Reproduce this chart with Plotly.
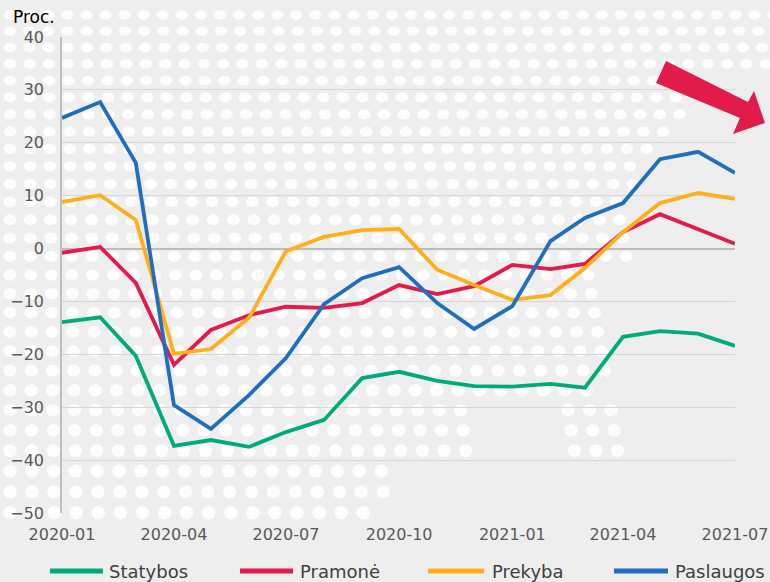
import base64
import plotly.graph_objects as go

# ---------------- data ----------------
months = [
    "2020-01-01", "2020-02-01", "2020-03-01", "2020-04-01", "2020-05-01", "2020-06-01",
    "2020-07-01", "2020-08-01", "2020-09-01", "2020-10-01", "2020-11-01", "2020-12-01",
    "2021-01-01", "2021-02-01", "2021-03-01", "2021-04-01", "2021-05-01", "2021-06-01",
    "2021-07-01",
]
statybos = [-13.9, -13.0, -20.3, -37.3, -36.2, -37.5, -34.7, -32.4, -24.5, -23.3,
            -25.0, -26.0, -26.1, -25.6, -26.3, -16.7, -15.6, -16.1, -18.4]
pramone = [-0.8, 0.3, -6.5, -22.0, -15.4, -12.6, -11.0, -11.2, -10.3, -6.9,
           -8.6, -7.1, -3.1, -3.9, -2.9, 3.1, 6.5, 3.7, 0.9]
prekyba = [8.8, 10.1, 5.4, -19.9, -19.0, -13.1, -0.5, 2.2, 3.5, 3.7,
           -4.0, -6.9, -9.7, -8.8, -3.7, 3.1, 8.6, 10.5, 9.4]
paslaugos = [24.7, 27.7, 16.2, -29.6, -34.1, -27.7, -20.7, -10.5, -5.6, -3.5,
             -10.3, -15.2, -10.9, 1.4, 5.8, 8.6, 16.9, 18.3, 14.3]

series_names = ["Statybos", "Pramonė", "Prekyba", "Paslaugos"]
series_values = [statybos, pramone, prekyba, paslaugos]
series_colors = ["#00AB7B", "#E31B4B", "#FFAF1C", "#1F6FBE"]

x_tick_vals = ["2020-01-01", "2020-04-01", "2020-07-01", "2020-10-01",
               "2021-01-01", "2021-04-01", "2021-07-01"]
x_tick_text = ["2020-01", "2020-04", "2020-07", "2020-10", "2021-01", "2021-04", "2021-07"]
y_tick_vals = [-50, -40, -30, -20, -10, 0, 10, 20, 30, 40]
y_unit_label = "Proc."

# ---------------- geometry helpers ----------------
W, H = 770, 582
ML, MR, MT, MB = 62, 35, 37, 69
PW, PH = W - ML - MR, H - MT - MB
BG = "#eeeeee"


def px(x):
    return (x - ML) / PW


def py(y):
    return (H - MB - y) / PH


# ---------------- decorative dotted background (SVG) ----------------
def keep(x, y):
    if y < 75:
        return True
    if y < 115:
        return x < 690
    if y < 160:
        return x < 665
    if y < 260:
        return x < 635
    if y < 400:
        return x < 605
    if y < 465:
        return x < 470 or 560 < x < 625
    if y < 525:
        return x < 385
    return False


ellipses = []
yy = 15.0
while yy < 530:
    t = yy / 500.0
    sx = 19 + 3 * t
    rx = 6.2 + 0.6 * t
    ry = 4.6 + 2 * t
    xx = 10.0
    while xx < W + 10:
        if keep(xx, yy):
            ellipses.append(
                f'<ellipse cx="{xx:.1f}" cy="{yy:.1f}" rx="{rx:.1f}" ry="{ry:.1f}"/>'
            )
        xx += sx
    yy += 16 + 5 * t

svg = (
    f'<svg xmlns="http://www.w3.org/2000/svg" width="{W}" height="{H}" '
    f'viewBox="0 0 {W} {H}"><g fill="#fdfdfd">' + "".join(ellipses) + "</g></svg>"
)
svg_uri = "data:image/svg+xml;base64," + base64.b64encode(svg.encode()).decode()

# ---------------- figure ----------------
fig = go.Figure()
for name, vals, col in zip(series_names, series_values, series_colors):
    fig.add_trace(go.Scatter(
        x=months, y=vals, name=name, mode="lines",
        line=dict(color=col, width=3.8), showlegend=False,
    ))

font_family = "DejaVu Sans, Verdana, sans-serif"

shapes = []
annotations = []

# arrow
arrow_pts = [(666, 61), (748, 102), (754, 91), (765, 123), (733, 134), (740, 118), (656, 83)]
path = "M " + " L ".join(f"{px(a):.4f},{py(b):.4f}" for a, b in arrow_pts) + " Z"
shapes.append(dict(type="path", path=path, xref="paper", yref="paper",
                   fillcolor="#E31B4B", line=dict(width=0), layer="above"))

# manual legend
legend_line_x = [(50, 103), (240, 293), (428, 484), (614, 668)]
legend_text_x = [107, 298, 490, 673]
legend_y = 571
for name, col, (x0, x1), tx in zip(series_names, series_colors, legend_line_x, legend_text_x):
    shapes.append(dict(type="line", xref="paper", yref="paper",
                       x0=px(x0), x1=px(x1), y0=py(legend_y), y1=py(legend_y),
                       line=dict(color=col, width=5)))
    annotations.append(dict(text=name, xref="paper", yref="paper", x=px(tx), y=py(legend_y),
                            xanchor="left", yanchor="middle", showarrow=False,
                            font=dict(family=font_family, size=18, color="#404040")))

annotations.append(dict(text=y_unit_label, xref="paper", yref="paper", x=px(11), y=py(17),
                        xanchor="left", yanchor="middle", showarrow=False,
                        font=dict(family=font_family, size=17, color="#000000")))

fig.update_layout(
    width=W, height=H, autosize=False,
    margin=dict(l=ML, r=MR, t=MT, b=MB, pad=0, autoexpand=False),
    paper_bgcolor=BG,
    plot_bgcolor="rgba(0,0,0,0)",
    font=dict(family=font_family, size=16, color="#595959"),
    showlegend=False,
    shapes=shapes,
    annotations=annotations,
    images=[dict(source=svg_uri, xref="paper", yref="paper",
                 x=px(0), y=py(0), sizex=W / PW, sizey=H / PH,
                 xanchor="left", yanchor="top", sizing="stretch", layer="below")],
    xaxis=dict(
        type="date", range=[months[0], months[-1]],
        tickmode="array", tickvals=x_tick_vals, ticktext=x_tick_text,
        showgrid=False, zeroline=False, showline=False, ticks="",
        tickfont=dict(size=16, color="#595959"), ticklabelstandoff=10,
        fixedrange=True, automargin=False,
    ),
    yaxis=dict(
        range=[-50, 40], tickmode="array", tickvals=y_tick_vals,
        showgrid=True, gridcolor="#d6d6d6", gridwidth=1,
        zeroline=True, zerolinecolor="#bcbcbc", zerolinewidth=2,
        showline=True, linecolor="#bfbfbf", linewidth=1.5, ticks="",
        tickfont=dict(size=16, color="#595959"), ticklabelstandoff=13,
        fixedrange=True, automargin=False,
    ),
)

fig.write_html(
    "out.html",
    config={"displayModeBar": False},
    post_script=(
        "document.body.style.margin='0';"
        "document.body.style.padding='0';"
        f"document.body.style.background='{BG}';"
        "document.documentElement.style.overflow='hidden';"
    ),
)
